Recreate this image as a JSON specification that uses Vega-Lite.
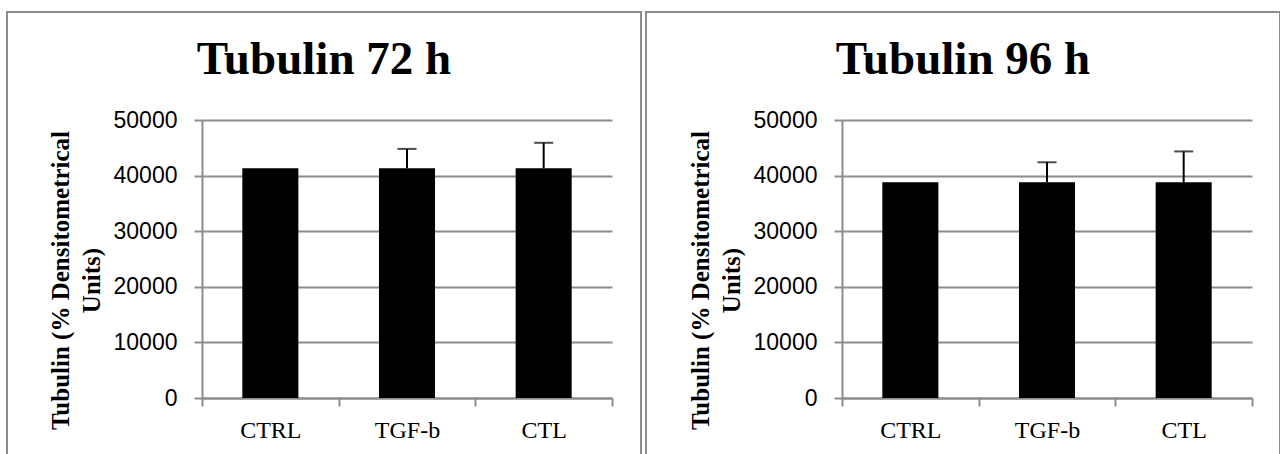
{
  "$schema": "https://vega.github.io/schema/vega-lite/v6.json",
  "padding": {"left": 6, "top": 11, "right": 0, "bottom": 0},
  "spacing": 3,
  "background": "#ffffff",
  "datasets": {
    "tubulin": [
      {"panel": "72 h", "group": "CTRL", "value": 41300, "upper": null},
      {"panel": "72 h", "group": "TGF-b", "value": 41300, "upper": 44800},
      {"panel": "72 h", "group": "CTL", "value": 41300, "upper": 45900},
      {"panel": "96 h", "group": "CTRL", "value": 38800, "upper": null},
      {"panel": "96 h", "group": "TGF-b", "value": 38800, "upper": 42400},
      {"panel": "96 h", "group": "CTL", "value": 38800, "upper": 44350}
    ]
  },
  "config": {
    "view": {"stroke": "#8c8c8c", "strokeWidth": 2},
    "title": {"font": "Liberation Serif", "fontSize": 47, "fontWeight": "bold", "color": "#000000", "baseline": "alphabetic", "offset": -72, "anchor": "middle"},
    "axisY": {
      "grid": true, "gridColor": "#8c8c8c", "gridWidth": 2,
      "domainColor": "#8c8c8c", "domainWidth": 2,
      "tickColor": "#8c8c8c", "tickWidth": 2, "tickSize": 8,
      "labelFont": "Liberation Sans", "labelFontSize": 23, "labelColor": "#000000", "labelPadding": 17,
      "titleFont": "Liberation Serif", "titleFontSize": 25, "titleFontWeight": "bold", "titleColor": "#000000",
      "titleY": 268, "titlePadding": 9, "titleLineHeight": 31
    },
    "axisX": {
      "grid": false, "labelAngle": 0, "title": null,
      "domainColor": "#8c8c8c", "domainWidth": 2,
      "tickColor": "#8c8c8c", "tickWidth": 2, "tickSize": 8, "tickBand": "extent",
      "labelFont": "Liberation Serif", "labelFontSize": 24, "labelColor": "#000000", "labelPadding": 12
    }
  },
  "hconcat": [
    {
      "width": 634, "height": 444,
      "title": {"text": "Tubulin 72 h"},
      "data": {"name": "tubulin"},
      "transform": [{"filter": "datum.panel === '72 h'"}],
      "encoding": {
        "x": {"field": "group", "type": "nominal", "sort": ["CTRL", "TGF-b", "CTL"],
              "scale": {"range": [195, 605], "paddingInner": 0, "paddingOuter": 0},
              "axis": {"offset": -58}},
        "y": {"field": "value", "type": "quantitative",
              "scale": {"domain": [0, 50000], "range": [386, 108], "nice": false},
              "axis": {"title": ["Tubulin (% Densitometrical", "Units)"], "offset": -195, "values": [0, 10000, 20000, 30000, 40000, 50000], "format": "d"}}
      },
      "layer": [
        {
          "mark": {"type": "bar", "color": "#000000", "width": {"band": 0.41}}
        },
        {
          "transform": [{"filter": "datum.upper != null"}],
          "mark": {"type": "rule", "color": "#000000", "strokeWidth": 2},
          "encoding": {"y2": {"field": "upper"}}
        },
        {
          "transform": [{"filter": "datum.upper != null"}],
          "mark": {"type": "tick", "color": "#000000", "thickness": 2, "size": 19},
          "encoding": {
            "y": {"field": "upper", "type": "quantitative",
                  "scale": {"domain": [0, 50000], "range": [386, 108], "nice": false},
                  "axis": {"title": ["Tubulin (% Densitometrical", "Units)"], "offset": -195, "values": [0, 10000, 20000, 30000, 40000, 50000], "format": "d"}}
          }
        }
      ]
    },
    {
      "width": 634, "height": 444,
      "title": {"text": "Tubulin 96 h"},
      "data": {"name": "tubulin"},
      "transform": [{"filter": "datum.panel === '96 h'"}],
      "encoding": {
        "x": {"field": "group", "type": "nominal", "sort": ["CTRL", "TGF-b", "CTL"],
              "scale": {"range": [196, 606], "paddingInner": 0, "paddingOuter": 0},
              "axis": {"offset": -58}},
        "y": {"field": "value", "type": "quantitative",
              "scale": {"domain": [0, 50000], "range": [386, 108], "nice": false},
              "axis": {"title": ["Tubulin (% Densitometrical", "Units)"], "offset": -196, "values": [0, 10000, 20000, 30000, 40000, 50000], "format": "d"}}
      },
      "layer": [
        {
          "mark": {"type": "bar", "color": "#000000", "width": {"band": 0.41}}
        },
        {
          "transform": [{"filter": "datum.upper != null"}],
          "mark": {"type": "rule", "color": "#000000", "strokeWidth": 2},
          "encoding": {"y2": {"field": "upper"}}
        },
        {
          "transform": [{"filter": "datum.upper != null"}],
          "mark": {"type": "tick", "color": "#000000", "thickness": 2, "size": 19},
          "encoding": {
            "y": {"field": "upper", "type": "quantitative",
                  "scale": {"domain": [0, 50000], "range": [386, 108], "nice": false},
                  "axis": {"title": ["Tubulin (% Densitometrical", "Units)"], "offset": -196, "values": [0, 10000, 20000, 30000, 40000, 50000], "format": "d"}}
          }
        }
      ]
    }
  ]
}
